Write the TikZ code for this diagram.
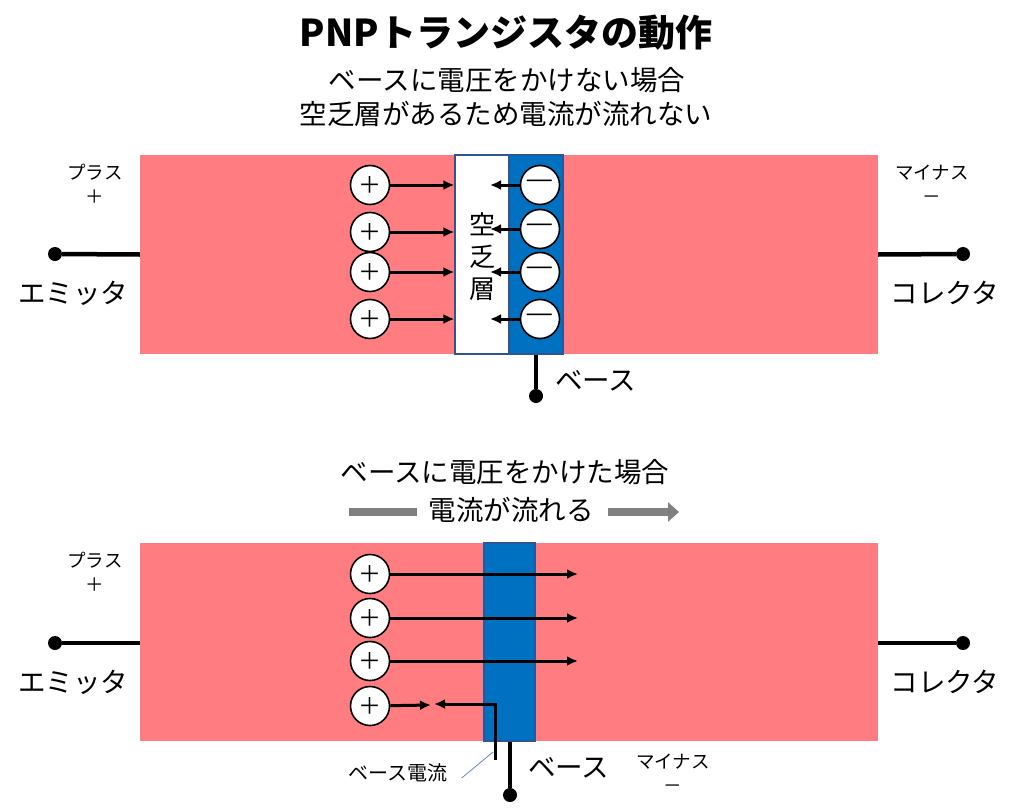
\documentclass[tikz,border=0pt]{standalone}
\usepackage{fontspec}
\setmainfont{Noto Sans CJK JP}
\usetikzlibrary{positioning,arrows.meta}

\definecolor{ptype}{HTML}{FF7C80}
\definecolor{ntype}{HTML}{0070C0}
\definecolor{edgeblue}{HTML}{2F5597}
\definecolor{flowgray}{HTML}{808080}

\newcommand\titlesize{\fontsize{37}{40}\selectfont}
\newcommand\bigjp{\fontsize{27.5}{34}\selectfont}
\newcommand\smalljp{\fontsize{18.5}{24}\selectfont}
\newcommand\minussign{\scalebox{1.5}[1]{－}}

\tikzset{
  pregion/.style={fill=ptype, draw=none, minimum width=738pt, inner sep=0pt},
  nregion/.style={fill=ntype, draw=edgeblue, line width=1.2pt, inner sep=0pt},
  deplbox/.style={fill=white, draw=edgeblue, line width=1.2pt, inner sep=0pt},
  carrier/.style={circle, draw=black, fill=white, line width=1.6pt, minimum size=39pt, inner sep=0pt, font=\fontsize{23}{23}\selectfont},
  flow/.style={-{Latex[length=11pt,width=10pt]}, line width=3pt},
  lead/.style={line width=4.5pt},
  dot/.style={circle, fill=black, minimum size=14pt, inner sep=0pt},
  lbl/.style={inner sep=0pt, font=\bigjp},
  side/.style={inner sep=0pt, font=\smalljp, align=center},
}

\begin{document}
\begin{tikzpicture}[x=1pt,y=-1pt]
  \useasboundingbox (0,0) rectangle (1022,808);

  % Titles
  \node[lbl, font=\titlesize\bfseries] (title) at (506,33) {PNPトランジスタの動作};
  \node[lbl] (cap1) at (507,80) {ベースに電圧をかけない場合};
  \node[lbl] (cap2) at (506,114) {空乏層があるため電流が流れない};

  % ---- Upper transistor (no base voltage)
  \node[pregion, minimum height=199pt] (p1) at (509,254.5) {};
  \node[deplbox, minimum width=54pt, minimum height=199pt] (dep) at (482,254.5) {};
  \node[nregion, minimum width=54pt, minimum height=199pt] (n1) at (536,254.5) {};
  \node[inner sep=0pt, font=\fontsize{26}{32}\selectfont, align=center] (deptxt) at (482,257) {空\\乏\\層};

  % holes stop at the depletion layer
  \foreach \y [count=\i] in {185,232,272,319} {
    \node[carrier] (h\i) at (370,\y) {＋};
    \draw[flow] (h\i) -- (dep.west |- h\i);
  }
  % electrons stop at the depletion layer
  \foreach \y [count=\i] in {185,229,272,319} {
    \node[carrier] (e\i) at (540,\y) {\minussign};
    \coordinate (et\i) at (490,\y);
    \draw[flow] (e\i) -- (et\i);
  }

  % terminals
  \node[dot] (edot1) at (55,254) {};
  \node[dot] (cdot1) at (963,254) {};
  \node[dot] (bdot1) at (536,396) {};
  \draw[lead] (edot1) -- (p1.west);
  \draw[lead] (p1.east) -- (cdot1);
  \draw[lead] (n1.south) -- (bdot1);
  \node[lbl] (em1) at (73,293) {エミッタ};
  \node[lbl] (co1) at (945,293) {コレクタ};
  \node[lbl, anchor=west] (ba1) at (555,381) {ベース};
  \node[side] (plus1) at (95,184) {プラス\\＋};
  \node[side] (minus1) at (932,184) {マイナス\\－};

  % ---- Lower transistor (base voltage applied)
  \node[lbl] (cap3) at (505,472) {ベースに電圧をかけた場合};
  \node[lbl] (cap4) at (511,510) {電流が流れる};
  \draw[flowgray, line width=8pt] (349,512) -- (417,512);
  \draw[flowgray, line width=8pt, -{Triangle[length=11pt,width=19pt]}] (608,512) -- (679,512);

  \node[pregion, minimum height=198pt] (p2) at (509,642) {};
  \node[nregion, minimum width=51pt, minimum height=198pt] (n2) at (509.5,642) {};

  % holes pass through the base
  \foreach \y [count=\i] in {574,618,661} {
    \node[carrier] (hb\i) at (370,\y) {＋};
    \coordinate (ht\i) at (578,\y);
    \draw[flow] (hb\i) -- (ht\i);
  }
  \node[carrier] (hb4) at (370,706) {＋};
  \coordinate (bmeet) at (431,705);
  \coordinate (bmeet2) at (434,704);
  \coordinate (bin) at (495,760);
  \draw[flow] (hb4) -- (bmeet);
  \draw[flow] (bin) |- (bmeet2);

  % terminals
  \node[dot] (edot2) at (55,643) {};
  \node[dot] (cdot2) at (963,643) {};
  \node[dot] (bdot2) at (510,795) {};
  \draw[lead] (edot2) -- (p2.west |- edot2);
  \draw[lead] (p2.east |- cdot2) -- (cdot2);
  \draw[lead] (n2.south -| bdot2) -- (bdot2);
  \node[lbl] (em2) at (73,682) {エミッタ};
  \node[lbl] (co2) at (945,682) {コレクタ};
  \node[lbl, anchor=west] (ba2) at (528,768) {ベース};
  \node[side] (plus2) at (95,572) {プラス\\＋};
  \node[side] (minus2) at (673,773) {マイナス\\－};

  % base current callout
  \node[inner sep=0pt, font=\fontsize{20}{24}\selectfont] (bcur) at (398,773) {ベース電流};
  \coordinate (bct) at (493,752);
  \draw[edgeblue!70, line width=0.8pt] (bcur.east) ++(14,5) -- (bct);
\end{tikzpicture}
\end{document}
